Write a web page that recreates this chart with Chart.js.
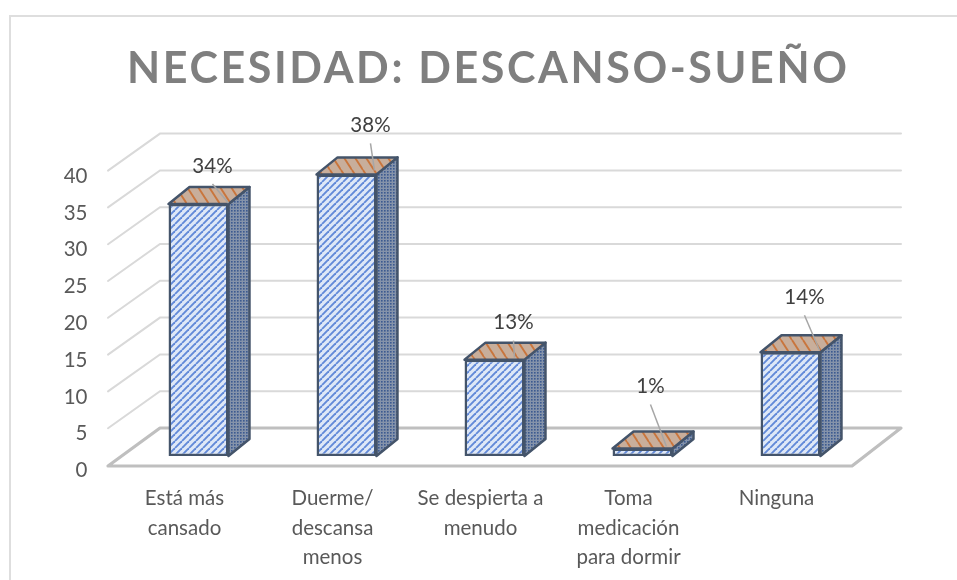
<!DOCTYPE html>
<html><head><meta charset="utf-8">
<style>
html,body{margin:0;padding:0;background:#fff;overflow:hidden}
#wrap{position:relative;width:957px;height:580px;overflow:hidden}
#frame{position:absolute;left:9px;top:15px;width:960px;height:600px;border-left:2px solid #dedede;border-top:2px solid #dedede;box-sizing:border-box;pointer-events:none}
canvas{position:absolute;left:0;top:0}
</style>
<script src="https://cdn.jsdelivr.net/npm/chart.js@4"></script>
</head><body>
<div id="wrap"><div id="frame"></div><canvas id="c" width="957" height="580"></canvas></div>
<script>
const categories = [['Está más','cansado'],['Duerme/','descansa','menos'],['Se despierta a','menudo'],['Toma','medicación','para dormir'],['Ninguna']];
const seriesValues = [34, 38, 13, 1, 14];
const percentLabels = ['34%','38%','13%','1%','14%'];
const titleText = 'NECESIDAD: DESCANSO-SUEÑO';

function tile(w, h, bg, paint){
  const t=document.createElement('canvas'); t.width=w; t.height=h;
  const g=t.getContext('2d'); g.fillStyle=bg; g.fillRect(0,0,w,h); paint(g,w,h);
  return document.createElement('canvas').getContext('2d').createPattern(t,'repeat');
}
function diag(color,width,rising){
  return (g,w,h)=>{ g.strokeStyle=color; g.lineWidth=width;
    for(let k=-w;k<=2*w;k+=w){ g.beginPath();
      if(rising){g.moveTo(k,h);g.lineTo(k+w,0);} else {g.moveTo(k,0);g.lineTo(k+w,h);}
      g.stroke(); } };
}
const frontFill = tile(7,7,'#dee8f7',diag('#6189d8',1.9,true));
const topFill = tile(11,17,'#c8ae9b',diag('#c9753c',1.9,false));
const sideFill = tile(3,3,'#8593aa',(g)=>{g.fillStyle='#3c5a90';g.fillRect(0,0,1.6,1.6);});

const edge='#44546a';
const scene3d = {
  id:'scene3d',
  beforeDraw(chart,args,o){
    const tb=chart.titleBlock;
    if(tb && !tb._spaced){
      const d=tb.draw.bind(tb);
      tb.draw=function(){ const c=chart.ctx; c.save(); c.letterSpacing=o.titleSpacing; c.translate(o.titleShift,0); d(); c.restore(); };
      tb._spaced=true;
    }
  },
  beforeDatasetsDraw(chart,args,o){
    const c=chart.ctx, y=chart.scales.y;
    c.save();
    c.lineCap='round';
    y.ticks.forEach(t=>{
      if(t.value===0) return;
      const py=y.getPixelForValue(t.value);
      c.strokeStyle='#d9d9d9'; c.lineWidth=2;
      c.beginPath(); c.moveTo(o.frontX,py); c.lineTo(o.wallX,py-o.wallDy); c.lineTo(o.wallRight,py-o.wallDy); c.stroke();
    });
    const p0=y.getPixelForValue(0);
    c.strokeStyle='#bfbfbf'; c.lineWidth=3.2; c.lineJoin='round';
    c.beginPath(); c.moveTo(o.frontX,p0+1); c.lineTo(o.wallX,p0-o.wallDy); c.lineTo(o.wallRight,p0-o.wallDy);
    c.lineTo(o.floorRight,p0+1); c.closePath(); c.stroke();
    c.restore();
  },
  afterDatasetsDraw(chart,args,o){
    const c=chart.ctx, meta=chart.getDatasetMeta(0);
    c.save();
    c.lineJoin='round'; c.strokeStyle=edge; c.lineWidth=o.edgeWidth;
    meta.data.forEach((b,i)=>{
      const hw=b.width/2, l=b.x-hw, r=b.x+hw, t=b.y, bot=b.base;
      c.beginPath(); c.moveTo(r,t); c.lineTo(r+o.dx,t-o.dy); c.lineTo(r+o.dx,bot-o.dy); c.lineTo(r,bot); c.closePath();
      c.fillStyle=sideFill; c.fill(); c.stroke();
      c.beginPath(); c.moveTo(l,t); c.lineTo(l+o.dx,t-o.dy); c.lineTo(r+o.dx,t-o.dy); c.lineTo(r,t); c.closePath();
      c.fillStyle=topFill; c.fill(); c.stroke();
    });
    meta.data.forEach((b,i)=>{
      const r=b.x+b.width/2, t=b.y, off=o.labelOffsets[i], end=o.leaderEnds[i];
      c.strokeStyle='#a6a6a6'; c.lineWidth=1.5;
      c.beginPath(); c.moveTo(r+off[0],t+off[1]+18); c.lineTo(r+end[0],t+end[1]); c.stroke();
      c.fillStyle='#404040'; c.font='20.5px Lato'; c.textAlign='center'; c.textBaseline='middle';
      c.fillText(percentLabels[i],r+off[0],t+off[1]);
    });
    c.restore();
  }
};

new Chart(document.getElementById('c'),{
  type:'bar',
  data:{labels:categories,datasets:[{
    data:seriesValues, yAxisID:'y2',
    backgroundColor:frontFill, borderColor:edge, borderWidth:2.5, borderSkipped:false,
    barPercentage:0.405, categoryPercentage:1
  }]},
  options:{
    responsive:false, animation:false, events:[],
    layout:{padding:{left:20,right:92.5,top:0,bottom:0}},
    scales:{
      x:{ grid:{display:false,drawTicks:false}, border:{display:false},
          afterFit(s){s.height=115;},
          ticks:{autoSkip:false,maxRotation:0,minRotation:0,labelOffset:-14,padding:19,color:'#595959',
                 font:{family:'Lato',size:20.5,lineHeight:1.43}} },
      y:{ min:0,max:40, position:'left', grid:{display:false,drawTicks:false}, border:{display:false},
          afterFit(s){s.width=104.5;},
          ticks:{stepSize:5,padding:37,labelOffset:5.5,color:'#595959',font:{family:'Lato',size:20.5}} },
      y2:{ display:false, min:-1.216, max:38.51 }
    },
    plugins:{
      legend:{display:false}, tooltip:{enabled:false},
      title:{display:true,text:titleText,color:'#7f7f7f',padding:{top:43,bottom:76},
             font:{family:'Lato',size:43,weight:'bold',lineHeight:1.2}},
      scene3d:{ titleSpacing:'2.6px', titleShift:46, frontX:108, wallX:160, wallDy:37, wallRight:901, floorRight:852, dx:21, dy:17, edgeWidth:2.5,
        labelOffsets:[[-16,-38],[-6,-49],[-11,-37],[-22,-62],[-16,-55]],
        leaderEnds:[[0,-1],[-2,-4],[-10,-2],[-6,-2],[-1,-2]] }
    }
  },
  plugins:[scene3d]
});
</script>
</body></html>
